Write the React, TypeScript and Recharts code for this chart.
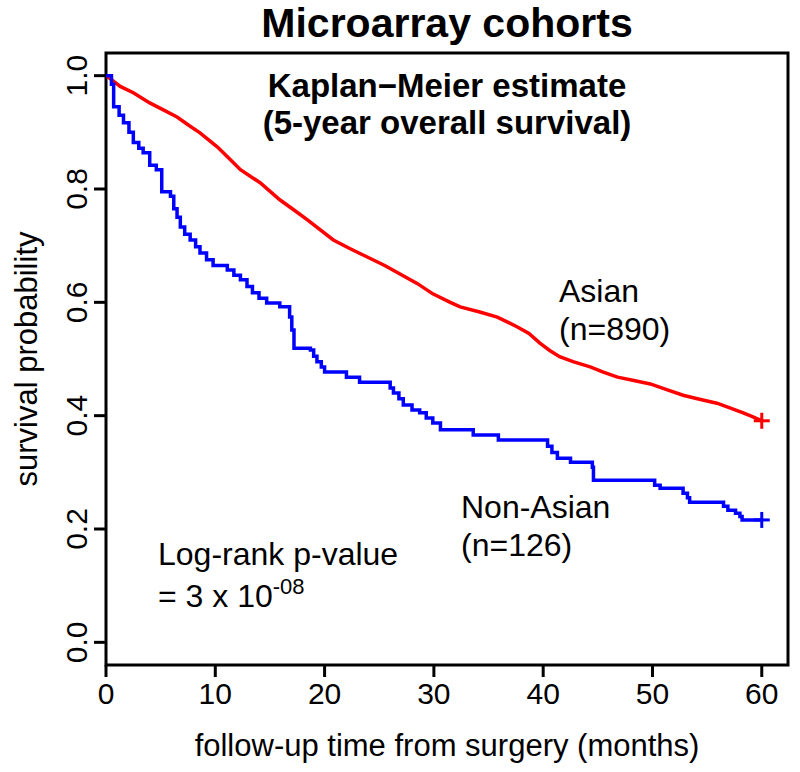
import React from 'react';
import {
  LineChart,
  Line,
  XAxis,
  YAxis,
  Scatter,
  ReferenceArea,
  Customized,
} from 'recharts';

// ---- Data ----
const asianTime = [
  0, 0.5, 1.3, 2.5, 4.0, 5.2, 6.5, 7.6, 8.6, 10.2, 11.2, 12.3, 14.1, 15.9, 17.2,
  18.4, 20.8, 22.3, 23.9, 25.5, 26.9, 28.5, 29.9, 31.5, 32.4, 34.2, 35.8, 37.6,
  38.7, 39.7, 40.6, 41.5, 42.8, 44.3, 45.5, 46.8, 48.3, 49.8, 51.3, 52.8, 54.3,
  55.9, 57.2, 58.3, 59.2, 60,
];
const asianSurv = [
  1.0, 0.993, 0.981, 0.97, 0.952, 0.94, 0.927, 0.912, 0.899, 0.874, 0.855, 0.834,
  0.811, 0.781, 0.763, 0.746, 0.71, 0.695, 0.68, 0.665, 0.65, 0.633, 0.615, 0.6,
  0.592, 0.583, 0.574, 0.557, 0.545, 0.528, 0.515, 0.504, 0.495, 0.486, 0.477,
  0.468, 0.462, 0.456, 0.446, 0.436, 0.429, 0.422, 0.413, 0.405, 0.398, 0.391,
];

const nonAsianTime = [
  0, 0.5, 0.7, 1.2, 1.6, 2.1, 2.5, 3.0, 3.4, 4.0, 4.6, 5.1, 5.9, 6.2, 6.5, 6.8,
  7.2, 7.7, 8.2, 8.6, 9.2, 9.8, 11.1, 11.7, 12.3, 12.9, 13.4, 14.0, 14.7, 15.9,
  16.8, 17.0, 17.2, 18.7, 19.0, 19.3, 19.7, 20.0, 22.0, 23.2, 26.0, 26.3, 26.8,
  27.2, 28.0, 28.7, 29.3, 29.9, 30.6, 33.6, 35.9, 40.4, 40.8, 41.3, 42.5, 44.5,
  44.6, 50.2, 50.7, 52.8, 53.2, 53.4, 56.5, 56.9, 57.6, 58.0, 58.2, 60,
];
const nonAsianSurv = [
  1.0, 0.985, 0.945, 0.93, 0.917, 0.9, 0.882, 0.872, 0.864, 0.842, 0.834, 0.795,
  0.787, 0.765, 0.75, 0.733, 0.72, 0.71, 0.698, 0.687, 0.675, 0.665, 0.657, 0.648,
  0.64, 0.628, 0.617, 0.607, 0.599, 0.592, 0.574, 0.551, 0.519, 0.516, 0.505,
  0.495, 0.486, 0.477, 0.468, 0.459, 0.449, 0.44, 0.43, 0.419, 0.41, 0.405, 0.396,
  0.387, 0.375, 0.366, 0.357, 0.346, 0.335, 0.325, 0.318, 0.309, 0.286, 0.277,
  0.272, 0.263, 0.255, 0.247, 0.24, 0.233, 0.228, 0.222, 0.216, 0.216,
];

const xTicks = [0, 10, 20, 30, 40, 50, 60];
const yTicks = [0, 0.2, 0.4, 0.6, 0.8, 1.0];

const asianCensor = [{ t: 60, s: 0.391 }];
const nonAsianCensor = [{ t: 60, s: 0.216 }];

const asianData = asianTime.map((t, i) => ({ t, s: asianSurv[i] }));
const nonAsianData = nonAsianTime.map((t, i) => ({ t, s: nonAsianSurv[i] }));

const FONT = "'Liberation Sans', Arial, Helvetica, sans-serif";
const RED = '#ff0000';
const BLUE = '#0000ff';

const YTick = (props: any) => {
  const { x, y, payload } = props;
  return (
    <text
      x={x}
      y={y}
      transform={`rotate(-90 ${x} ${y})`}
      textAnchor="middle"
      fontSize={30}
      fontFamily={FONT}
      fill="#000"
    >
      {Number(payload.value).toFixed(1)}
    </text>
  );
};

const makePlus = (color: string) => (props: any) => {
  const { cx, cy } = props;
  const h = 8;
  return (
    <g>
      <line x1={cx - h} y1={cy} x2={cx + h} y2={cy} stroke={color} strokeWidth={3} />
      <line x1={cx} y1={cy - h} x2={cx} y2={cy + h} stroke={color} strokeWidth={3} />
    </g>
  );
};

const Annotations = () => (
  <g fontFamily={FONT} fill="#000">
    <text x={447} y={37} textAnchor="middle" fontSize={41} fontWeight="bold">
      Microarray cohorts
    </text>
    <text x={447} y={97} textAnchor="middle" fontSize={33} fontWeight="bold">
      Kaplan−Meier estimate
    </text>
    <text x={447} y={134} textAnchor="middle" fontSize={33} fontWeight="bold">
      (5-year overall survival)
    </text>
    <text x={559} y={302} fontSize={32}>Asian</text>
    <text x={559} y={340} fontSize={32}>(n=890)</text>
    <text x={461} y={518} fontSize={32}>Non-Asian</text>
    <text x={461} y={556} fontSize={32}>(n=126)</text>
    <text x={158} y={565} fontSize={32}>Log-rank p-value</text>
    <text x={158} y={607} fontSize={32}>
      = 3 x 10
      <tspan dy={-13} fontSize={22}>-08</tspan>
    </text>
    <text x={447} y={756} textAnchor="middle" fontSize={31}>
      follow-up time from surgery (months)
    </text>
    <text
      x={37}
      y={359}
      textAnchor="middle"
      fontSize={31}
      transform="rotate(-90 37 359)"
    >
      survival probability
    </text>
  </g>
);

export default function App() {
  return (
    <div
      style={{
        position: 'absolute',
        left: 0,
        top: 0,
        width: 800,
        height: 772,
        background: '#fff',
      }}
    >
      <LineChart
        width={800}
        height={772}
        margin={{ top: 53, right: 12, bottom: 47, left: 46 }}
      >
        <XAxis
          dataKey="t"
          type="number"
          domain={[0, 62.4]}
          ticks={xTicks}
          allowDataOverflow
          axisLine={false}
          tickLine={{ stroke: '#000', strokeWidth: 3 }}
          tickSize={12}
          tickMargin={6}
          height={60}
          interval={0}
          tick={{ fontSize: 30, fill: '#000', fontFamily: FONT }}
        />
        <YAxis
          dataKey="s"
          type="number"
          domain={[-0.04, 1.04]}
          ticks={yTicks}
          allowDataOverflow
          axisLine={false}
          tickLine={{ stroke: '#000', strokeWidth: 3 }}
          tickSize={12}
          tickMargin={7}
          width={60}
          interval={0}
          tick={<YTick />}
        />
        <ReferenceArea
          x1={0}
          x2={62.4}
          y1={-0.04}
          y2={1.04}
          fill="none"
          stroke="#000"
          strokeWidth={3}
          ifOverflow="visible"
        />
        <Line
          data={asianData}
          dataKey="s"
          type="linear"
          stroke={RED}
          strokeWidth={3.5}
          dot={false}
          activeDot={false}
          isAnimationActive={false}
        />
        <Line
          data={nonAsianData}
          dataKey="s"
          type="stepAfter"
          stroke={BLUE}
          strokeWidth={3.5}
          dot={false}
          activeDot={false}
          isAnimationActive={false}
        />
        <Scatter
          data={asianCensor}
          dataKey="s"
          shape={makePlus(RED)}
          isAnimationActive={false}
        />
        <Scatter
          data={nonAsianCensor}
          dataKey="s"
          shape={makePlus(BLUE)}
          isAnimationActive={false}
        />
        <Customized component={Annotations} />
      </LineChart>
    </div>
  );
}
